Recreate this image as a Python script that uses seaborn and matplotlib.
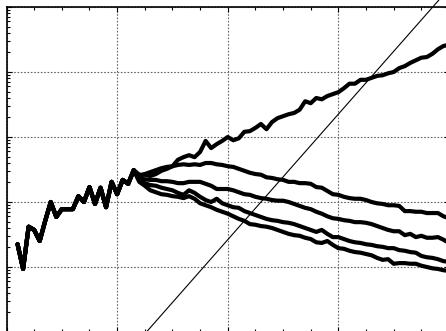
import matplotlib
matplotlib.use("Agg")
import matplotlib.pyplot as plt
from matplotlib.ticker import LogLocator, MultipleLocator, NullFormatter
import numpy as np
import pandas as pd
import seaborn as sns


# iterations 2..23 are shared by all five runs, then they split
SHARED_START = 2
SPLIT_START = 24
X_MAX = 80

# values as log10(y)
shared_log = [1.35, 0.97, 1.62, 1.57, 1.40, 1.71, 2.00, 1.77, 1.89, 1.89, 1.89,
              2.09, 2.00, 2.23, 1.97, 2.22, 1.92, 2.31, 2.12, 2.34, 2.28, 2.49]

upper_log = [2.42, 2.42, 2.40, 2.43, 2.48, 2.51, 2.55, 2.65, 2.69, 2.72,
             2.69, 2.77, 2.94, 2.83, 2.89, 2.94, 3.00, 2.95, 2.98, 3.08,
             3.09, 3.14, 3.20, 3.12, 3.23, 3.29, 3.32, 3.35, 3.37, 3.42,
             3.55, 3.52, 3.60, 3.58, 3.63, 3.66, 3.69, 3.75, 3.82, 3.82,
             3.88, 3.88, 3.91, 3.94, 3.95, 3.98, 4.00, 4.06, 4.09, 4.14,
             4.18, 4.22, 4.23, 4.28, 4.35, 4.40, 4.42]

lower1_log = [2.40, 2.43, 2.46, 2.49, 2.52, 2.54, 2.55, 2.57, 2.58, 2.57,
              2.58, 2.57, 2.60, 2.60, 2.58, 2.57, 2.55, 2.54, 2.51, 2.48,
              2.45, 2.43, 2.42, 2.38, 2.37, 2.35, 2.34, 2.31, 2.31, 2.29,
              2.29, 2.28, 2.23, 2.22, 2.17, 2.12, 2.11, 2.08, 2.06, 2.05,
              2.05, 2.03, 2.00, 1.98, 1.97, 1.95, 1.95, 1.94, 1.86, 1.86,
              1.85, 1.85, 1.83, 1.83, 1.83, 1.78, 1.75]

lower2_log = [2.37, 2.35, 2.34, 2.34, 2.32, 2.32, 2.31, 2.29, 2.29, 2.31,
              2.31, 2.31, 2.28, 2.25, 2.20, 2.20, 2.20, 2.18, 2.15, 2.12,
              2.11, 2.08, 2.06, 2.05, 2.03, 2.02, 2.02, 2.00, 1.97, 1.94,
              1.91, 1.89, 1.85, 1.82, 1.78, 1.75, 1.74, 1.72, 1.71, 1.69,
              1.69, 1.68, 1.66, 1.63, 1.60, 1.57, 1.55, 1.55, 1.49, 1.51,
              1.46, 1.48, 1.45, 1.45, 1.46, 1.42, 1.37]

lower3_log = [2.34, 2.29, 2.26, 2.25, 2.22, 2.20, 2.18, 2.14, 2.11, 2.18,
              2.14, 2.08, 2.03, 2.00, 2.05, 1.98, 1.95, 1.92, 1.91, 1.86,
              1.83, 1.80, 1.77, 1.74, 1.72, 1.71, 1.69, 1.68, 1.66, 1.63,
              1.60, 1.57, 1.54, 1.57, 1.51, 1.46, 1.46, 1.43, 1.40, 1.38,
              1.37, 1.35, 1.34, 1.32, 1.31, 1.29, 1.29, 1.26, 1.25, 1.23,
              1.22, 1.17, 1.15, 1.14, 1.12, 1.09, 1.08]

lower4_log = [2.31, 2.25, 2.18, 2.15, 2.12, 2.11, 2.09, 2.08, 2.06, 2.09,
              2.05, 1.98, 1.95, 1.92, 1.88, 1.85, 1.82, 1.78, 1.74, 1.71,
              1.66, 1.65, 1.63, 1.62, 1.60, 1.57, 1.54, 1.51, 1.49, 1.48,
              1.45, 1.43, 1.38, 1.37, 1.40, 1.34, 1.29, 1.28, 1.25, 1.23,
              1.22, 1.20, 1.18, 1.14, 1.11, 1.12, 1.05, 1.06, 1.06, 1.05,
              1.05, 1.02, 1.00, 0.98, 0.97, 0.95, 0.94]

# thin reference line (two end points)
ref_x = [25.3, 78.2]
ref_log = [0.0, 5.11]

BRANCHES = {
    "upper": upper_log,
    "lower1": lower1_log,
    "lower2": lower2_log,
    "lower3": lower3_log,
    "lower4": lower4_log,
}


def build_frame() -> pd.DataFrame:
    steps = np.arange(SHARED_START, X_MAX + 1)
    parts = []
    for name, branch in BRANCHES.items():
        logs = np.array(shared_log + branch)
        parts.append(pd.DataFrame({"step": steps, "value": 10.0 ** logs, "run": name}))
    return pd.concat(parts, ignore_index=True)


def main() -> None:
    sns.set_style("ticks")
    df = build_frame()

    fig = plt.figure(figsize=(4.46, 3.31), dpi=100)
    ax = fig.add_axes([6.5 / 446, -1 / 331, 442.5 / 446, 325 / 331])

    sns.lineplot(
        data=df,
        x="step",
        y="value",
        units="run",
        estimator=None,
        color="black",
        linewidth=3.0,
        legend=False,
        ax=ax,
    )
    ax.plot(ref_x, 10.0 ** np.array(ref_log), color="black", linewidth=0.8, clip_on=False)

    ax.set_yscale("log")
    ax.set_xlim(0, X_MAX)
    ax.set_ylim(1, 1e5)

    ax.xaxis.set_major_locator(MultipleLocator(20))
    ax.xaxis.set_minor_locator(MultipleLocator(5))
    ax.yaxis.set_major_locator(LogLocator(base=10))
    ax.yaxis.set_minor_locator(LogLocator(base=10, subs=np.arange(2, 10)))
    for axis in (ax.xaxis, ax.yaxis):
        axis.set_major_formatter(NullFormatter())
        axis.set_minor_formatter(NullFormatter())

    ax.tick_params(which="both", direction="in", top=True, right=True, color="black", width=0.8)
    ax.tick_params(which="major", length=3.5)
    ax.tick_params(which="minor", length=2.0)

    ax.grid(True, which="major", color="0.4", linestyle=(0, (1.5, 1.5)), linewidth=0.8)
    ax.set_xlabel("")
    ax.set_ylabel("")
    for spine in ax.spines.values():
        spine.set_linewidth(1.2)
        spine.set_color("black")

    fig.savefig("out.png", dpi=100)
    plt.close(fig)


if __name__ == "__main__":
    main()
